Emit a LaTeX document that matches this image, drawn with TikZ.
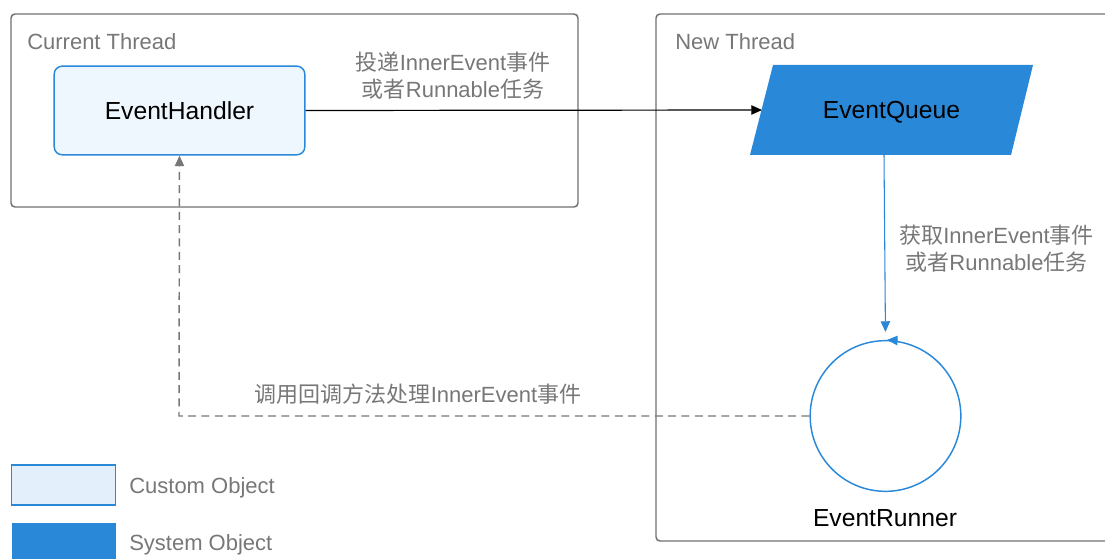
\documentclass[tikz,border=0pt]{standalone}
\usepackage{fontspec}
\setmainfont{Liberation Sans}
\newfontfamily\cjk{Noto Sans CJK SC}
\usetikzlibrary{arrows.meta,calc}
\definecolor{framegray}{HTML}{707070}
\definecolor{labelgray}{HTML}{777777}
\definecolor{sysblue}{HTML}{2A88D8}
\definecolor{custfill}{HTML}{EFF7FE}
\definecolor{legendfill}{HTML}{E3EFFA}
\begin{document}
\begin{tikzpicture}[x=0.75pt,y=-0.75pt,
  threadframe/.style={draw=framegray,line width=1.1pt,rounded corners=3pt},
  threadtitle/.style={anchor=west,inner sep=0pt,text=labelgray,font=\fontsize{16.5}{20}\selectfont},
  objtext/.style={font=\fontsize{18.5}{22}\selectfont,text=black},
  edgelabel/.style={align=center,text=labelgray,inner sep=0pt,font=\fontsize{16.5}{20.2}\selectfont},
  custobj/.style={draw=sysblue,fill=custfill,line width=1.1pt,rounded corners=6pt,
    minimum width=188pt,minimum height=66.5pt,inner sep=0pt},
  sysfill/.style={fill=sysblue},
  flowarrow/.style={draw=black,line width=0.9pt,-{Triangle[length=8pt,width=7pt]}},
  fetcharrow/.style={draw=sysblue,line width=0.8pt,-{Triangle[length=8pt,width=7pt]}},
  callback/.style={draw=labelgray,line width=1.1pt,dash pattern=on 6pt off 4pt,
    -{Triangle[length=8pt,width=7pt]}},
  legendbox/.style={draw=sysblue,line width=1.1pt,minimum width=78pt,minimum height=30pt,inner sep=0pt},
  legendtext/.style={anchor=west,inner sep=0pt,text=labelgray,font=\fontsize{16.5}{20}\selectfont}]
\useasboundingbox (0,0) rectangle (1105,559);

% thread frames
\draw[threadframe] (11,14) rectangle (578,207);
\draw[threadframe] (656,14) rectangle (1125,541);
\node[threadtitle] (curtitle) at (27,42) {Current Thread};
\node[threadtitle] (newtitle) at (675,42) {New Thread};

% EventHandler (custom object)
\node[custobj,objtext] (handler) at (179.5,110.5) {EventHandler};

% EventQueue (system object, parallelogram)
\fill[sysfill] (773,65) -- (1033,65) -- (1011,155) -- (750,155) -- cycle;
\node[objtext] (queue) at (891.5,112) {EventQueue};
\coordinate (queueW) at (762,110);
\coordinate (queueS) at (884,155);

% EventRunner loop
\node[circle,draw=sysblue,line width=1.1pt,minimum size=113pt,inner sep=0pt] (runner) at (885.5,416) {};
\draw[draw=sysblue,line width=1.1pt,-{Triangle[length=8pt,width=7pt]}]
  ([xshift=9pt,yshift=-0.4pt]runner.north) -- ([xshift=1pt]runner.north);
\node[objtext] (runnerlabel) at (885,518) {EventRunner};

% post a task
\draw[flowarrow] (handler.east) -- (queueW);
\node[edgelabel] (postlabel) at (453,76)
  {{\cjk 投递}InnerEvent{\cjk 事件}\\{\cjk 或者}Runnable{\cjk 任务}};

% fetch a task
\draw[fetcharrow,shorten >=6pt] (queueS) -- (runner.north);
\node[edgelabel] (fetchlabel) at (996.5,249)
  {{\cjk 获取}InnerEvent{\cjk 事件}\\{\cjk 或者}Runnable{\cjk 任务}};

% callback to the handler
\coordinate (corner) at (179,416);
\draw[callback] (runner.west) -- (corner) -- (handler.south);
\node[edgelabel] (calllabel) at (418,394)
  {{\cjk 调用回调方法处理}InnerEvent{\cjk 事件}};

% legend
\node[legendbox,fill=legendfill] (legcustom) at (63.5,485) {};
\node[legendtext] (legcustomtext) at (129,487.5) {Custom Object};
\node[legendbox,draw=none,fill=sysblue,minimum height=40pt] (legsystem) at (63.5,550) {};
\node[legendtext] (legsystemtext) at (129,544.5) {System Object};
\end{tikzpicture}
\end{document}
